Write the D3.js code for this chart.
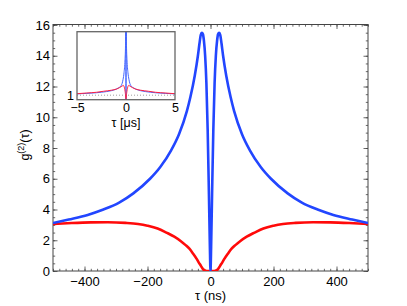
<!DOCTYPE html>
<html>
<head>
<meta charset="utf-8">
<script src="https://cdn.jsdelivr.net/npm/d3@7"></script>
<style>
  body { margin: 0; background: #fff; }
  text { font-family: "Liberation Sans", Arial, sans-serif; fill: #000; }
</style>
</head>
<body>
<div id="graphe"></div>
<script>
// donnees : tau en ns, g2 sans unite
const tauBleu = [-500, -450, -390, -340, -290, -245, -192, -160, -125, -100, -75, -64, -50, -40, -35, -31, -27.5, -24, -21, -17, -13, -9, -5, -2, 0,
                 2, 5, 9, 13, 17, 21, 24, 27.5, 31, 35, 40, 50, 64, 75, 100, 125, 160, 192, 245, 290, 340, 390, 450, 500];
const g2Bleu  = [3.12, 3.35, 3.65, 4.0, 4.45, 5.05, 6.0, 6.75, 7.85, 8.9, 10.4, 11.3, 12.7, 14.0, 14.8, 15.35, 15.5, 15.4, 15.0, 14.0, 12.2, 9.2, 5.0, 1.6, 0,
                 1.6, 5.0, 9.2, 12.2, 14.0, 15.0, 15.4, 15.5, 15.35, 14.8, 14.0, 12.7, 11.3, 10.4, 8.9, 7.85, 6.75, 6.0, 5.05, 4.45, 4.0, 3.65, 3.35, 3.12];

const tauRouge = [-500, -440, -380, -326, -270, -230, -200, -168, -140, -115, -95, -80, -67, -55, -45, -38, -30, -24, -18, -12, 0,
                  12, 18, 24, 30, 38, 45, 55, 67, 80, 95, 115, 140, 168, 200, 230, 270, 326, 380, 440, 500];
const g2Rouge  = [3.06, 3.12, 3.16, 3.17, 3.13, 3.06, 2.95, 2.77, 2.5, 2.23, 1.95, 1.7, 1.45, 1.12, 0.82, 0.58, 0.32, 0.12, 0.03, 0, 0,
                  0, 0.03, 0.12, 0.32, 0.58, 0.82, 1.12, 1.45, 1.7, 1.95, 2.23, 2.5, 2.77, 2.95, 3.06, 3.13, 3.17, 3.16, 3.12, 3.06];

// encart : tau en microsecondes
const tauEncartBleu = [-5, -4, -3, -2, -1.5, -1, -0.75, -0.5, -0.3, -0.2, -0.1, -0.05, -0.03, 0, 0.03, 0.05, 0.1, 0.2, 0.3, 0.5, 0.75, 1, 1.5, 2, 3, 4, 5];
const g2EncartBleu  = [1.3, 1.4, 1.55, 1.8, 2.0, 2.35, 2.65, 3.1, 4.5, 6.0, 8.9, 12.0, 15.5, 0, 15.5, 12.0, 8.9, 6.0, 4.5, 3.1, 2.65, 2.35, 2.0, 1.8, 1.55, 1.4, 1.3];
const tauEncartRouge = [-5, -4, -3, -2.3, -1.5, -0.94, -0.43, -0.27, -0.2, -0.1, -0.05, -0.015, 0, 0.015, 0.05, 0.1, 0.2, 0.27, 0.43, 0.94, 1.5, 2.3, 3, 4, 5];
const g2EncartRouge  = [1.33, 1.49, 1.65, 1.87, 2.1, 2.38, 2.97, 3.17, 2.95, 1.95, 1.1, 0.1, 0, 0.1, 1.1, 1.95, 2.95, 3.17, 2.97, 2.38, 2.1, 1.87, 1.65, 1.49, 1.33];

const ticksX = [-400, -200, 0, 200, 400];
const ticksY = [0, 2, 4, 6, 8, 10, 12, 14, 16];
const ticksEncartX = [-5, 0, 5];
const ticksEncartY = [1];

const W = 407, H = 306;
const G = 53, D = 368, HAUT = 24.5, BAS = 271;
const BLEU = "#2246ff", ROUGE = "#ff0a0a", CADRE = "#444";

const svg = d3.select("#graphe").append("svg").attr("width", W).attr("height", H);

const x = d3.scaleLinear().domain([-500, 500]).range([G, D]);
const y = d3.scaleLinear().domain([0, 16]).range([BAS, 25]);

svg.append("clipPath").attr("id", "clipMain")
   .append("rect").attr("x", G).attr("y", HAUT).attr("width", D - G).attr("height", BAS - HAUT);

function graduations(echX, echY, x0, x1, y0, y1, majX, minX, majY, minY, grand, petit) // ticks dans les 4 sens, vers l'interieur
{
   const g = svg.append("g");
   const axes = [
      [d3.axisBottom(echX), y1, 0, majX, minX],
      [d3.axisTop(echX), y0, 0, majX, minX],
      [d3.axisLeft(echY), 0, x0, majY, minY],
      [d3.axisRight(echY), 0, x1, majY, minY]
   ];
   axes.forEach(function(a) {
      [[a[4], petit], [a[3], grand]].forEach(function(t) {
         g.append("g")
          .attr("transform", "translate(" + a[2] + "," + a[1] + ")")
          .call(a[0].tickValues(t[0]).tickSize(-t[1]).tickSizeOuter(0).tickFormat(""))
          .call(s => s.select(".domain").remove())
          .selectAll("line").attr("stroke", CADRE).attr("stroke-width", 0.8);
      });
   });
}

graduations(x, y, G, D, HAUT, BAS, ticksX, d3.range(-500, 501, 20), ticksY, d3.range(0, 16.01, 0.5), 4.5, 2.2);

// etiquettes
svg.append("g").attr("transform", "translate(0," + BAS + ")")
   .call(d3.axisBottom(x).tickValues(ticksX).tickSize(0).tickPadding(6))
   .call(s => s.select(".domain").remove())
   .selectAll("text").attr("font-size", 13).style("font-family", "Liberation Sans, Arial");
svg.append("g").attr("transform", "translate(" + G + ",0)")
   .call(d3.axisLeft(y).tickValues(ticksY).tickSize(0).tickPadding(3))
   .call(s => s.select(".domain").remove())
   .selectAll("text").attr("font-size", 13).style("font-family", "Liberation Sans, Arial");

svg.append("rect").attr("x", G).attr("y", HAUT).attr("width", D - G).attr("height", BAS - HAUT)
   .attr("fill", "none").attr("stroke", CADRE).attr("stroke-width", 1);

const ligne = d3.line().x(d => x(d[0])).y(d => y(d[1])).curve(d3.curveMonotoneX);

svg.append("path").datum(d3.zip(tauRouge, g2Rouge)).attr("d", ligne)
   .attr("fill", "none").attr("stroke", ROUGE).attr("stroke-width", 2.6).attr("clip-path", "url(#clipMain)");
svg.append("path").datum(d3.zip(tauBleu, g2Bleu)).attr("d", ligne)
   .attr("fill", "none").attr("stroke", BLEU).attr("stroke-width", 2.6).attr("clip-path", "url(#clipMain)");

svg.append("text").attr("x", 210.5).attr("y", 300).attr("text-anchor", "middle").attr("font-size", 13).text("τ (ns)");

const lab = svg.append("text").attr("transform", "translate(29,145) rotate(-90)")
   .attr("text-anchor", "middle").attr("font-size", 12.5);
lab.append("tspan").text("g");
lab.append("tspan").attr("font-size", 9).attr("dy", -5).text("(2)");
lab.append("tspan").attr("dy", 5).text("(τ)");

// encart
const EG = 77, ED = 175, EH = 31.7, EB = 99.7;
const xe = d3.scaleLinear().domain([-5, 5]).range([EG, ED]);
const ye = d3.scaleLinear().domain([0, 15.1]).range([EB, EH]);

svg.append("rect").attr("x", EG).attr("y", EH).attr("width", ED - EG).attr("height", EB - EH).attr("fill", "#fff");
svg.append("clipPath").attr("id", "clipEncart")
   .append("rect").attr("x", EG).attr("y", EH).attr("width", ED - EG).attr("height", EB - EH);

svg.append("line").attr("x1", EG).attr("x2", ED).attr("y1", ye(1)).attr("y2", ye(1))
   .attr("stroke", "#888").attr("stroke-width", 0.8).attr("stroke-dasharray", "1,2");

const ligneE = d3.line().x(d => xe(d[0])).y(d => ye(d[1])).curve(d3.curveMonotoneX);
svg.append("path").datum(d3.zip(tauEncartBleu, g2EncartBleu)).attr("d", ligneE)
   .attr("fill", "none").attr("stroke", "#4466ff").attr("stroke-width", 1).attr("clip-path", "url(#clipEncart)");
svg.append("path").datum(d3.zip(tauEncartRouge, g2EncartRouge)).attr("d", ligneE)
   .attr("fill", "none").attr("stroke", "#ff2040").attr("stroke-width", 1).attr("clip-path", "url(#clipEncart)");

svg.append("rect").attr("x", EG).attr("y", EH).attr("width", ED - EG).attr("height", EB - EH)
   .attr("fill", "none").attr("stroke", "#666").attr("stroke-width", 1.3);

svg.append("g").attr("transform", "translate(0," + EB + ")")
   .call(d3.axisBottom(xe).tickValues(ticksEncartX).tickSize(0).tickPadding(3))
   .call(s => s.select(".domain").remove())
   .selectAll("text").attr("font-size", 12.5).style("font-family", "Liberation Sans, Arial");
svg.append("g").attr("transform", "translate(" + EG + ",0)")
   .call(d3.axisLeft(ye).tickValues(ticksEncartY).tickSize(0).tickPadding(3))
   .call(s => s.select(".domain").remove())
   .selectAll("text").attr("font-size", 12.5).style("font-family", "Liberation Sans, Arial");

svg.append("text").attr("x", (EG + ED) / 2).attr("y", 127).attr("text-anchor", "middle").attr("font-size", 12.5).text("τ [μs]");
</script>
</body>
</html>
